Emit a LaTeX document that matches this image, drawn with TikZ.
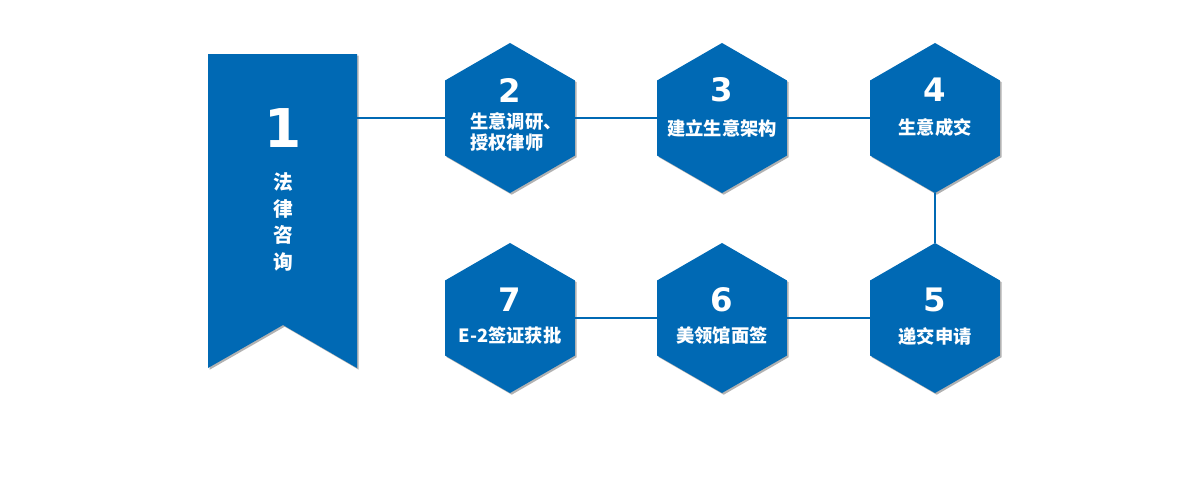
\documentclass[tikz,border=0pt]{standalone}
\usepackage{fontspec}
\newfontfamily\cjk{Noto Sans CJK SC}
\newfontfamily\numfont{DejaVu Sans}
\definecolor{stepblue}{RGB}{0, 105, 180}
\usetikzlibrary{shapes.geometric,shadows}

\begin{document}
\begin{tikzpicture}[x=0.025cm, y=-0.025cm,
    hexa/.style={regular polygon, regular polygon sides=6, shape border rotate=30,
      minimum size=3.75cm, inner sep=0pt, outer sep=0pt, fill=stepblue,
      drop shadow={shadow xshift=1.2pt, shadow yshift=-1.2pt, fill=black, opacity=0.3}},
    numtxt/.style={text=white, font=\numfont\bfseries\fontsize{23}{23}\selectfont},
    steptxt/.style={text=white, align=center, font=\cjk\bfseries\fontsize{13}{14.5}\selectfont},
    link/.style={stepblue, line width=0.9pt}]
        \useasboundingbox (0,0) rectangle (1200,480);
        % banner
        \fill[stepblue, drop shadow={shadow xshift=1.2pt, shadow yshift=-1.2pt, fill=black, opacity=0.3}]
          (208,54) -- (357,54) -- (357,368) -- (283,325) -- (208,368) -- cycle;
        \coordinate (flag) at (357,118);
        \node[text=white, font=\numfont\bfseries\fontsize{38}{38}\selectfont] (n1) at (283,128) {1};
        \node[text=white, align=center, font=\cjk\bfseries\fontsize{14}{19}\selectfont] (t1) at (283,222) {法\\律\\咨\\询};
        % hexagons
        \node[hexa] (h2) at (510,118) {};
        \node[hexa] (h3) at (722,118) {};
        \node[hexa] (h4) at (935,118) {};
        \node[hexa] (h5) at (935,318) {};
        \node[hexa] (h6) at (722,318) {};
        \node[hexa] (h7) at (510,318) {};
        % links
        \draw[link] (flag) -- (h2);
        \draw[link] (h2) -- (h3);
        \draw[link] (h3) -- (h4);
        \draw[link] (h4) -- (h5);
        \draw[link] (h5) -- (h6);
        \draw[link] (h6) -- (h7);
        % labels
        \node[numtxt] (n2) at (510,90) {2};
        \node[steptxt, align=left] (t2) at (516,132) {生意调研、\\授权律师};
        \node[numtxt] (n3) at (722,90) {3};
        \node[steptxt] (t3) at (722,128) {建立生意架构};
        \node[numtxt] (n4) at (935,90) {4};
        \node[steptxt] (t4) at (935,128) {生意成交};
        \node[numtxt] (n5) at (935,300) {5};
        \node[steptxt] (t5) at (935,337) {递交申请};
        \node[numtxt] (n6) at (722,300) {6};
        \node[steptxt] (t6) at (722,336) {美领馆面签};
        \node[numtxt] (n7) at (510,300) {7};
        \node[steptxt] (t7) at (510,335) {E-2签证获批};
      \end{tikzpicture}
\end{document}
